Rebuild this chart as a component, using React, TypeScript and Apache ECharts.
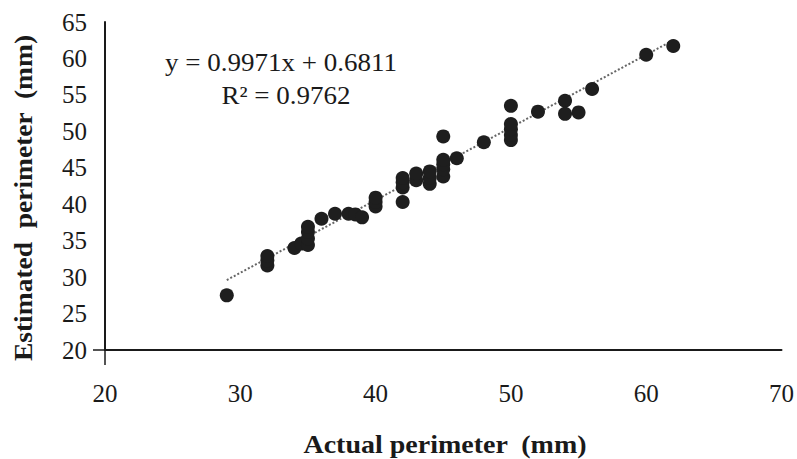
import React, { useEffect, useRef } from "react";
import * as echarts from "echarts";

const xValues = [
  29, 32, 32, 32, 34, 34.5, 35, 35, 35, 35, 36, 37, 38, 38.5, 39, 40, 40, 40,
  42, 42, 42, 42, 43, 43, 44, 44, 44, 45, 45, 45, 45, 45, 46, 48, 50, 50, 50,
  50, 50, 52, 54, 54, 55, 56, 60, 62,
];
const yValues = [
  27.5, 31.6, 32.3, 32.9, 34.0, 34.6, 34.4, 35.3, 36.2, 36.9, 38.0, 38.7, 38.7,
  38.6, 38.2, 39.7, 40.3, 40.9, 40.3, 42.3, 43.0, 43.6, 43.3, 44.2, 42.8, 43.6,
  44.5, 43.8, 44.8, 45.5, 46.1, 49.3, 46.3, 48.5, 48.8, 49.5, 50.3, 51.0, 53.5,
  52.7, 54.2, 52.4, 52.6, 55.8, 60.5, 61.7,
];
const slope = 0.9971;
const intercept = 0.6811;
const trendRange = [29, 62];
const xTitle = "Actual perimeter  (mm)";
const yTitle = "Estimated  perimeter  (mm)";
const eqLine1 = "y = 0.9971x + 0.6811";
const eqLine2 = "R\u00B2 = 0.9762";

export default function App() {
  const ref = useRef<HTMLDivElement>(null);
  useEffect(() => {
    if (!ref.current) return;
    document.body.style.margin = "0";
    const chart = echarts.init(ref.current, null, { renderer: "svg" });
    const font = "'Liberation Serif', 'Times New Roman', serif";
    const points = xValues.map((x, i) => [x, yValues[i]]);
    const trend = trendRange.map((x) => [x, slope * x + intercept]);
    chart.setOption({
      animation: false,
      backgroundColor: "#ffffff",
      grid: { left: 105, right: 14, top: 22, bottom: 109 },
      xAxis: {
        type: "value",
        min: 20,
        max: 70,
        interval: 10,
        splitLine: { show: false },
        axisLine: { show: true, lineStyle: { color: "#1a1a1a", width: 2 } },
        axisTick: {
          show: true,
          customValues: [20],
          length: 15,
          lineStyle: { color: "#1a1a1a", width: 1.5 },
        },
        axisLabel: {
          fontFamily: font,
          fontSize: 25,
          color: "#1a1a1a",
          margin: 31,
        },
      },
      yAxis: {
        type: "value",
        min: 20,
        max: 65,
        interval: 5,
        splitLine: { show: false },
        axisLine: { show: true, lineStyle: { color: "#1a1a1a", width: 2 } },
        axisTick: {
          show: true,
          customValues: [20],
          length: 12,
          lineStyle: { color: "#1a1a1a", width: 1.5 },
        },
        axisLabel: {
          fontFamily: font,
          fontSize: 25,
          color: "#1a1a1a",
          margin: 18,
        },
      },
      series: [
        {
          type: "line",
          data: trend,
          symbol: "none",
          lineStyle: { type: "dotted", color: "#666", width: 2 },
          z: 1,
        },
        {
          type: "scatter",
          data: points,
          symbolSize: 14,
          itemStyle: { color: "#1e1e1e", opacity: 1 },
          z: 2,
        },
      ],
      graphic: [
        {
          type: "text",
          x: 445,
          y: 445,
          scaleX: 1.12,
          style: {
            text: xTitle,
            font: `bold 25px ${font}`,
            fill: "#1a1a1a",
            align: "center",
            verticalAlign: "middle",
          },
        },
        {
          type: "text",
          x: 24,
          y: 198,
          rotation: Math.PI / 2,
          scaleX: 1.1,
          style: {
            text: yTitle,
            font: `bold 25px ${font}`,
            fill: "#1a1a1a",
            align: "center",
            verticalAlign: "middle",
          },
        },
        {
          type: "text",
          x: 281,
          y: 63,
          scaleX: 1.08,
          style: {
            text: eqLine1,
            font: `25px ${font}`,
            fill: "#1a1a1a",
            align: "center",
            verticalAlign: "middle",
          },
        },
        {
          type: "text",
          x: 286,
          y: 96,
          scaleX: 1.08,
          style: {
            text: eqLine2,
            font: `25px ${font}`,
            fill: "#1a1a1a",
            align: "center",
            verticalAlign: "middle",
          },
        },
      ],
    });
    return () => chart.dispose();
  }, []);
  return <div ref={ref} style={{ width: 797, height: 459 }} />;
}
